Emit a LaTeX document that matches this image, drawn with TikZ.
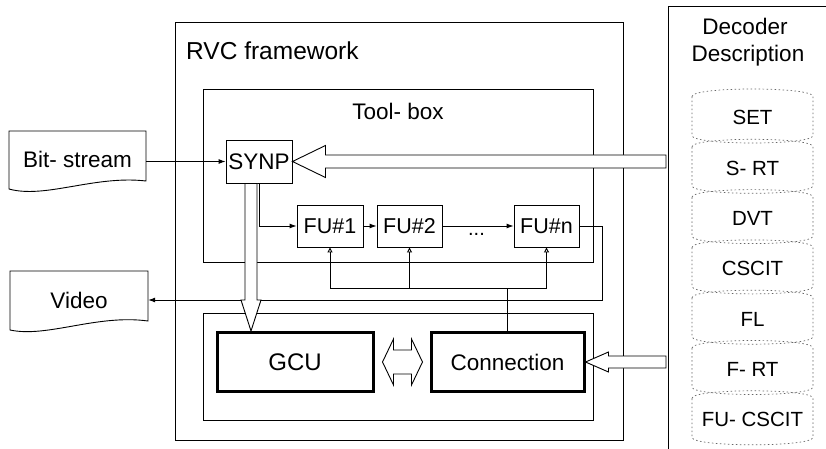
\documentclass[tikz,border=0pt]{standalone}
\usepackage{fontspec}
\setmainfont{Liberation Sans}
\usetikzlibrary{arrows.meta,calc}
\newcommand{\fsz}[1]{\fontsize{#1}{#1}\selectfont}
\tikzset{
  frame/.style={draw, line width=0.9pt, inner sep=0pt},
  unit/.style={frame, font=\fsz{21.5}, minimum width=66pt, minimum height=42pt},
  bigbox/.style={draw, line width=3pt, inner sep=0pt, minimum width=155pt, minimum height=59pt},
  lbl/.style={inner sep=0pt},
  hollow/.style={draw, line width=0.9pt, fill=white, line join=miter},
  flow/.style={line width=0.9pt, -{Latex[length=7pt,width=5pt]}},
  fb/.style={line width=0.9pt, -{Triangle[open,length=5pt,width=5pt]}},
  cyl/.style={draw=black!60, line width=0.7pt, dash pattern=on 1.5pt off 2.5pt},
}
\begin{document}
\begin{tikzpicture}[x=1pt,y=-1pt]
\clip (0,0) rectangle (826,449);
\fill[white] (0,0) rectangle (826,449);
% main frames
\node[frame, minimum width=448pt, minimum height=418pt] (rvc) at (399,231) {};
\node[lbl, anchor=base west, font=\fsz{24.5}] (rvct) at (186,60) {RVC framework};
\node[frame, minimum width=390pt, minimum height=173pt] (tb) at (398,175.5) {};
\node[lbl, anchor=base, font=\fsz{22.5}] (tbt) at (398,120) {Tool- box};
\node[frame, minimum width=390pt, minimum height=107pt] (low) at (398,366.5) {};
% decoder description
\node[frame, line width=1.1pt, minimum width=220pt, minimum height=480pt, anchor=north west] (dec) at (668,6) {};
\node[lbl, anchor=base, font=\fsz{22.5}] (dect1) at (745,35) {Decoder};
\node[lbl, anchor=base, font=\fsz{22.5}] (dect2) at (748,62) {Description};
\foreach \t [count=\i from 0] in {SET,S- RT,DVT,CSCIT,FL,F- RT,FU- CSCIT}{
  \pgfmathsetmacro\c{117.5+50.3*\i}
  \draw[cyl] (692,\c-21) .. controls (692,\c-31) and (813,\c-31) .. (813,\c-21)
     -- (813,\c+18) .. controls (813,\c+28) and (692,\c+28) .. (692,\c+18) -- cycle;
  \node[lbl, anchor=base, font=\fsz{20.5}] (c\i) at (752.5,\c+7.5) {\t};
}
% documents
\draw[line width=0.9pt] (9,131) -- (146,131) -- (146,181) .. controls (95,175) and (45,199) .. (9,189) -- cycle;
\node[lbl, minimum width=137pt, font=\fsz{22.5}] (bits) at (77.5,159) {Bit- stream};
\draw[line width=0.9pt] (10,271) -- (148,271) -- (148,321) .. controls (97,314) and (47,338) .. (10,330) -- cycle;
\node[lbl, minimum width=138pt, font=\fsz{22.5}] (video) at (79,300) {Video};
% units
\node[frame, minimum width=66pt, minimum height=43pt, font=\fsz{22.5}] (synp) at (259,161.5) {SYNP};
\node[unit] (fu1) at (330,226) {FU\#1};
\node[unit, minimum width=65pt] (fu2) at (409.5,226) {FU\#2};
\node[unit, minimum width=65pt] (fun) at (546.5,226) {FU\#n};
\node[bigbox, minimum width=156pt, font=\fsz{24}] (gcu) at (295,362) {GCU};
\node[bigbox, minimum width=153pt, font=\fsz{22.5}] (conn) at (507.5,362) {Connection};
% thin connectors
\draw[flow] (synp.west -| bits.east) -- (synp.west);
\draw[flow] (fun.east) -- ++(23,0) |- (video.east);
\draw[flow] (fu1.east) -- (fu2.west);
\draw[flow] (fu2.east) -- (fun.west);
\node[lbl, anchor=base, font=\fsz{20}] (dots) at (476.5,235) {...};
\coordinate (bus) at ($(conn.north)+(0,-43)$);
\draw[fb] (conn.north) -- (bus) -| (fu1.south);
\draw[fb] (bus) -| (fun.south);
\draw[fb] (bus -| fu2.south) -- (fu2.south);
% hollow arrows
\draw[hollow] (synp.east) -- ++(33,-16) -- ++(0,9.5) -- ($(dec.west |- synp.east)+(-2,-6.5)$)
   -- ++(0,13) -- ($(synp.east)+(33,6.5)$) -- ++(0,9.5) -- cycle;
\coordinate (va) at ($(synp.south)+(-8,0)$);
\draw[hollow] ($(synp.south)+(-14,0)$) -- ++(12,0) -- ($(gcu.north -| va)+(6,-31)$) -- ++(4,0)
   -- (gcu.north -| va) -- ++(-10,-31) -- ++(4,0) -- cycle;
\draw[flow] (synp.south) |- (fu1.west);
\coordinate (dl) at ($(gcu.east)+(8,0)$);
\coordinate (dr) at ($(conn.west)+(-7,0)$);
\draw[hollow] (dl) -- ++(11,-23) -- ++(0,11) -- ($(dr)+(-11,-12)$) -- ++(0,-11) -- (dr)
   -- ++(-11,23) -- ++(0,-11) -- ($(dl)+(11,12)$) -- ++(0,11) -- cycle;
\draw[hollow] (conn.east) -- ++(23,-10) -- ++(0,4) -- ($(dec.west |- conn.east)+(-2,-6)$)
   -- ++(0,12) -- ($(conn.east)+(23,6)$) -- ++(0,4) -- cycle;
\end{tikzpicture}
\end{document}
